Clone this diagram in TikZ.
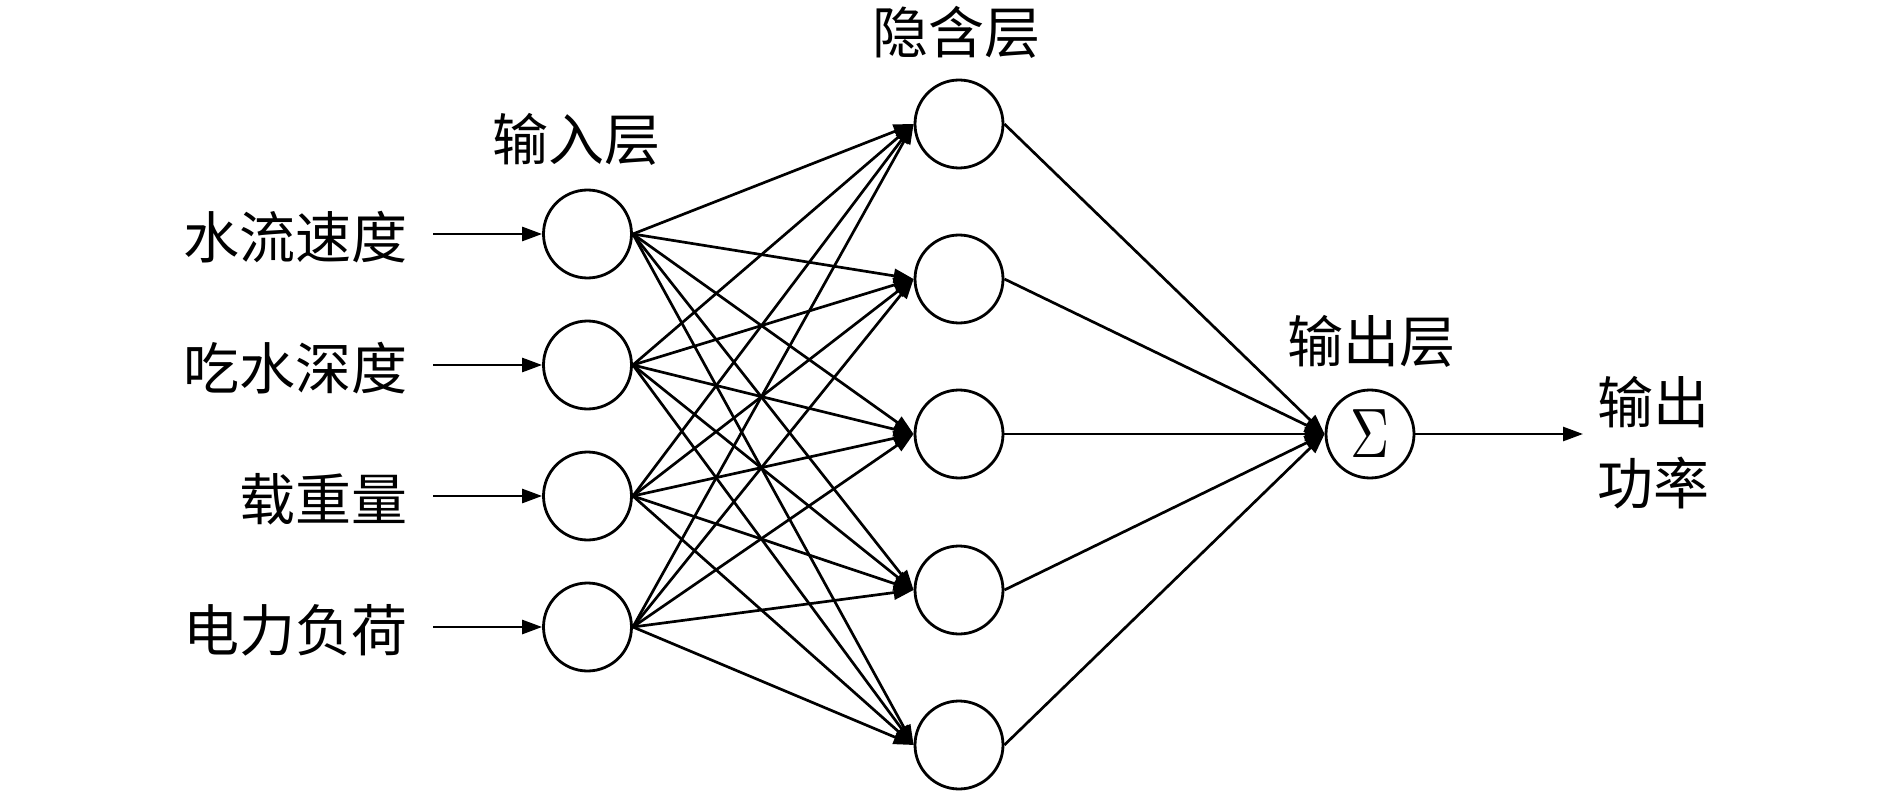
\documentclass[tikz,border=0pt]{standalone}
\usepackage{fontspec}
\newfontfamily\cjk{Noto Sans CJK SC}
\usetikzlibrary{arrows.meta}
\begin{document}
\begin{tikzpicture}[x=0.5pt,y=-0.5pt,
  neuron/.style={circle,draw,line width=1.4pt,minimum size=44pt,inner sep=0pt},
  lbl/.style={font=\cjk\fontsize{28}{30}\selectfont,inner sep=0pt},
  conn/.style={line width=1.35pt,-{Triangle[length=10pt,width=7pt]}}]
\useasboundingbox (0,0) rectangle (1890,791);
% input layer
\foreach \i/\y in {1/234,2/365,3/496,4/627}{
  \node[neuron] (i\i) at (587.5,\y) {};
  \coordinate (s\i) at (433,\y);
  \draw[conn] (s\i) -- (i\i);
}
% hidden layer
\foreach \j/\y in {1/124,2/279,3/434,4/590,5/745}{
  \node[neuron] (h\j) at (959,\y) {};
}
% output
\node[neuron] (o) at (1370,434) {\scalebox{2.7}[3.5]{$\Sigma$}};
\coordinate (oe) at (1583,434);
\draw[conn] (o) -- (oe);
% connections
\foreach \i in {1,...,4}{
  \foreach \j in {1,...,5}{
    \draw[conn] (i\i.east) -- (h\j.west);
  }
}
\foreach \j in {1,...,5}{
  \draw[conn] (h\j.east) -- (o.west);
}
% labels
\node[lbl,anchor=east] (l1) at (408,237) {水流速度};
\node[lbl,anchor=east] (l2) at (408,368) {吃水深度};
\node[lbl,anchor=east] (l3) at (408,499) {载重量};
\node[lbl,anchor=east] (l4) at (408,630) {电力负荷};
\node[lbl] (tin) at (576,139) {输入层};
\node[lbl] (thid) at (956,32) {隐含层};
\node[lbl] (tout) at (1371,341) {输出层};
\node[lbl,anchor=west] (r1) at (1597,402) {输出};
\node[lbl,anchor=west] (r2) at (1597,483) {功率};
\end{tikzpicture}
\end{document}
